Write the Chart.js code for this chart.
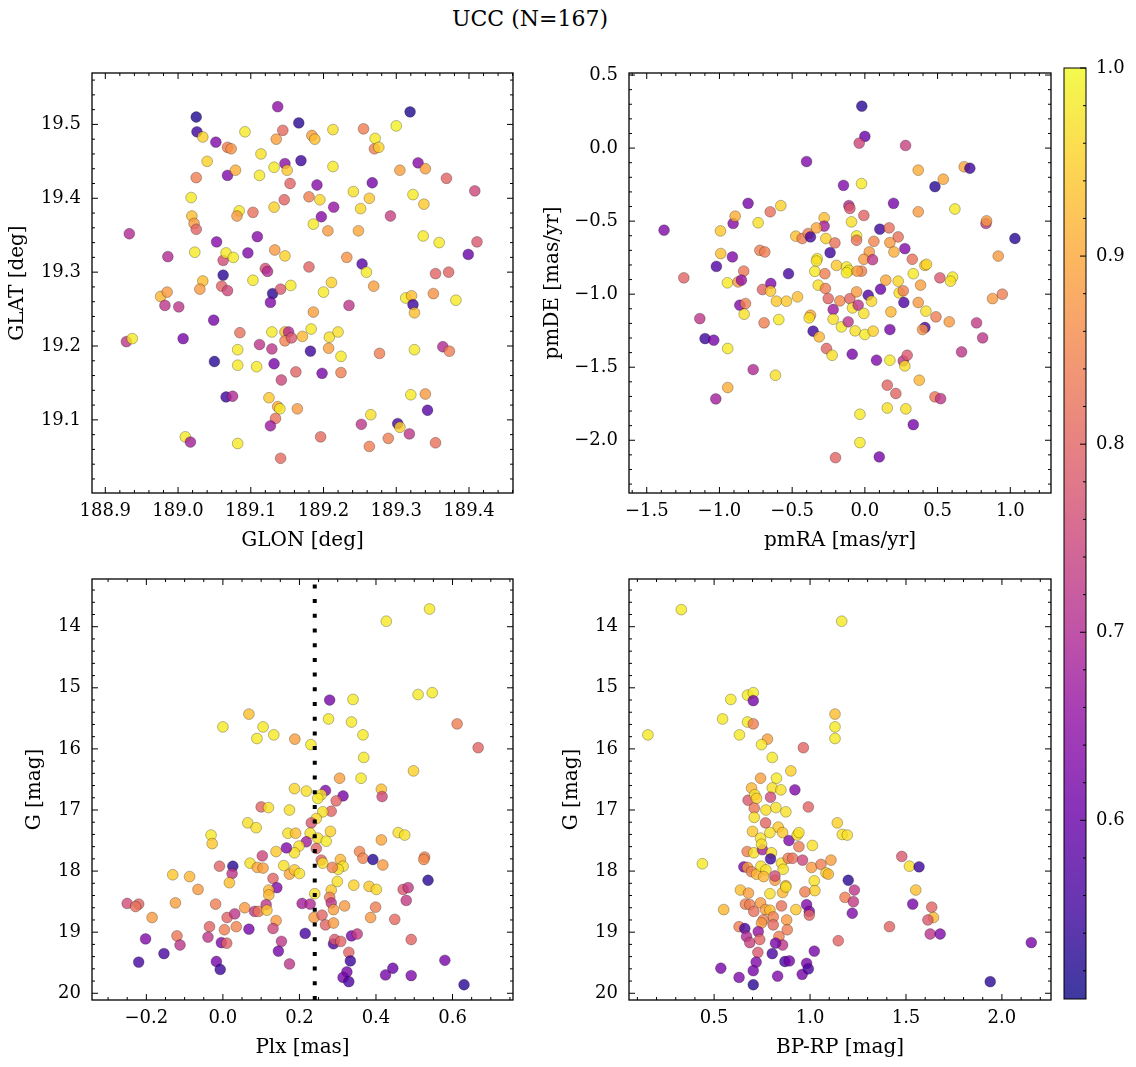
<!DOCTYPE html>
<html>
<head>
<meta charset="utf-8">
<script src="https://cdn.jsdelivr.net/npm/chart.js@4.4.1/dist/chart.umd.min.js"></script>
<style>
  body { margin: 0; background: #fff; }
  #fig { position: relative; width: 1136px; height: 1067px; font-family: 'DejaVu Serif', serif; }
  #fig canvas { position: absolute; }
  #suptitle { position: absolute; left: 0; width: 1060px; top: 6px; text-align: center; font-size: 22px; line-height: 26px; color: #000; }
</style>
</head>
<body>
<div id="fig">
  <div id="suptitle">UCC (N=167)</div>
  <canvas id="posChart"></canvas>
  <canvas id="pmChart"></canvas>
  <canvas id="plxChart"></canvas>
  <canvas id="cmdChart"></canvas>
  <canvas id="cbarChart"></canvas>
</div>
<script>
// values, one list per quantity and panel
const glon = [
  189.137,189.025,189.319,189.026,189.034,189.052,189.068,189.073,189.092,189.144,
  189.166,189.135,189.184,189.188,189.213,189.255,189.270,189.271,189.276,189.300,
  189.040,189.025,189.068,189.079,189.114,189.112,189.132,189.147,189.150,189.169,
  189.154,189.213,189.191,189.267,189.305,189.330,189.340,189.369,189.408,189.018,
  189.084,189.081,189.103,189.132,189.146,189.180,189.195,189.214,189.197,189.186,
  189.241,189.263,189.251,189.292,189.323,189.338,189.019,189.022,189.025,188.933,
  189.053,189.109,189.206,189.248,189.337,189.359,189.411,188.986,189.023,189.062,
  189.066,189.076,189.096,189.133,189.147,189.180,189.120,189.123,189.232,189.253,
  189.259,189.399,189.354,189.372,
  189.062,189.103,189.034,189.030,188.976,188.985,188.982,189.001,189.060,189.068,
  189.130,189.127,189.141,189.155,189.211,189.200,189.269,189.313,189.321,189.323,
  189.325,189.351,189.382,189.235,189.186,189.049,189.007,188.929,188.937,189.085,
  189.082,189.112,189.129,189.129,189.147,189.152,189.147,189.156,189.171,189.183,
  189.182,189.208,189.207,189.220,189.224,189.050,189.082,189.108,189.132,189.142,
  189.162,189.198,189.224,189.277,189.325,189.364,189.373,189.066,189.075,189.125,
  189.137,189.140,189.134,189.127,189.164,189.320,189.340,189.343,189.265,189.252,
  189.302,189.305,189.318,189.196,189.289,189.263,189.354,189.010,189.017,189.082,
  189.141];
const glat = [
  19.524,19.510,19.517,19.490,19.483,19.476,19.469,19.467,19.490,19.492,
  19.502,19.480,19.485,19.480,19.493,19.494,19.467,19.481,19.469,19.498,
  19.450,19.428,19.431,19.438,19.460,19.431,19.442,19.447,19.438,19.451,
  19.420,19.443,19.418,19.421,19.438,19.448,19.440,19.427,19.410,19.401,
  19.383,19.376,19.381,19.388,19.398,19.402,19.398,19.388,19.375,19.365,
  19.409,19.400,19.386,19.376,19.405,19.392,19.376,19.366,19.358,19.352,
  19.341,19.348,19.356,19.356,19.349,19.340,19.341,19.321,19.327,19.316,
  19.326,19.320,19.326,19.330,19.322,19.307,19.305,19.301,19.320,19.311,
  19.300,19.324,19.298,19.300,
  19.296,19.289,19.288,19.277,19.267,19.273,19.255,19.253,19.281,19.275,
  19.271,19.259,19.277,19.282,19.286,19.273,19.281,19.265,19.268,19.256,
  19.245,19.271,19.262,19.255,19.246,19.235,19.210,19.206,19.210,19.218,
  19.195,19.202,19.196,19.219,19.219,19.219,19.207,19.211,19.213,19.223,
  19.193,19.212,19.197,19.219,19.186,19.179,19.174,19.172,19.176,19.154,
  19.165,19.163,19.164,19.190,19.195,19.199,19.193,19.131,19.132,19.130,
  19.118,19.115,19.102,19.092,19.115,19.134,19.135,19.113,19.107,19.094,
  19.095,19.090,19.081,19.077,19.075,19.064,19.069,19.077,19.070,19.068,
  19.048];
const probPos = [
  0.65,0.52,0.52,0.55,0.95,0.63,0.84,0.87,0.98,0.81,
  0.53,0.89,0.89,0.93,0.97,0.84,0.84,0.98,0.95,0.99,
  0.95,0.84,0.63,0.91,0.97,0.98,0.98,0.65,0.94,0.55,
  0.80,0.98,0.64,0.62,0.89,0.64,0.89,0.80,0.75,0.98,
  0.98,0.88,0.82,0.95,0.80,0.84,0.96,0.66,0.64,0.98,
  0.97,0.94,0.96,0.74,0.98,0.94,0.93,0.88,0.80,0.70,
  0.64,0.64,0.88,0.90,0.98,0.98,0.78,0.70,0.98,0.76,
  0.98,0.98,0.63,0.88,0.95,0.80,0.77,0.70,0.87,0.58,
  0.98,0.60,0.80,0.80,
  0.53,0.98,0.93,0.88,0.92,0.88,0.72,0.72,0.80,0.75,
  0.53,0.63,0.78,0.98,0.95,0.98,0.89,0.98,0.93,0.55,
  0.93,0.87,0.98,0.72,0.89,0.62,0.62,0.72,0.98,0.82,
  0.98,0.72,0.72,0.98,0.93,0.70,0.85,0.78,0.92,0.98,
  0.55,0.97,0.89,0.97,0.98,0.53,0.98,0.98,0.62,0.75,
  0.80,0.62,0.84,0.84,0.98,0.70,0.84,0.55,0.70,0.94,
  0.90,0.98,0.82,0.67,0.88,0.98,0.88,0.58,0.97,0.72,
  0.56,0.95,0.72,0.81,0.84,0.84,0.82,0.98,0.68,0.98,
  0.81];

const pmra = [
  -0.021,0.000,-0.039,0.280,-0.401,0.367,0.683,0.722,0.539,0.482,
  -0.147,-0.023,-0.803,-0.578,-0.110,-0.103,0.197,0.619,-1.381,-0.993,
  -0.906,-0.892,-0.734,-0.651,-0.280,-0.280,-0.092,-0.007,0.367,0.833,
  0.837,1.032,-0.475,-0.431,-0.390,-0.374,-0.333,-0.268,-0.206,-0.057,
  -0.057,0.103,0.167,0.229,0.172,0.200,0.275,0.062,0.030,0.917,
  -0.239,-0.991,-0.911,-0.722,-0.688,-1.021,-0.833,-0.525,-0.328,-0.333,
  -0.195,-0.126,-0.110,-0.126,-0.275,-0.344,-0.023,-0.053,-0.007,0.053,
  0.326,0.413,0.424,0.333,-1.245,0.516,0.603,
  -0.945,-0.872,-0.849,-0.704,-0.647,-0.649,-0.608,-0.539,-0.463,-0.860,
  -0.821,-0.830,-1.135,-1.099,-1.039,-0.943,-0.693,-0.592,-0.768,-0.615,
  -0.943,-1.025,-0.374,-0.383,-0.356,-0.314,-0.321,-0.271,-0.252,-0.218,
  -0.218,-0.172,-0.161,-0.115,-0.103,-0.085,-0.057,-0.046,-0.007,-0.067,
  0.000,0.057,0.023,0.046,0.108,0.144,0.179,0.172,0.229,0.236,
  0.264,0.268,0.367,0.383,0.420,0.489,0.580,0.589,0.413,0.397,
  0.768,0.810,0.665,0.878,0.945,-0.087,0.080,0.172,0.264,0.291,
  0.275,-0.264,-0.225,0.374,0.154,0.213,0.154,0.282,0.482,0.521,
  -0.034,0.333,-0.034,-0.202,0.099];
const pmde = [
  0.287,0.080,0.034,0.018,-0.092,-0.151,-0.128,-0.138,-0.213,-0.264,
  -0.255,-0.243,-0.378,-0.394,-0.394,-0.413,-0.378,-0.417,-0.562,-0.567,
  -0.516,-0.466,-0.511,-0.436,-0.477,-0.534,-0.505,-0.461,-0.436,-0.516,
  -0.498,-0.619,-0.603,-0.619,-0.585,-0.608,-0.546,-0.619,-0.649,-0.601,
  -0.631,-0.555,-0.546,-0.608,-0.647,-0.711,-0.688,-0.638,-0.711,-0.739,
  -0.716,-0.722,-0.745,-0.700,-0.711,-0.810,-0.842,-0.860,-0.757,-0.773,
  -0.803,-0.814,-0.837,-0.853,-0.860,-0.844,-0.842,-0.842,-0.761,-0.764,
  -0.761,-0.803,-0.796,-0.860,-0.888,-0.888,-0.883,
  -0.922,-0.916,-0.904,-0.968,-0.927,-0.979,-1.048,-1.048,-1.018,-1.075,
  -1.064,-1.137,-1.167,-1.304,-1.315,-1.372,-1.196,-1.174,-1.516,-1.555,
  -1.639,-1.717,-1.144,-1.162,-1.253,-1.292,-0.938,-0.961,-1.030,-1.105,
  -1.171,-1.046,-1.224,-1.189,-1.030,-1.094,-0.984,-1.075,-1.132,-1.251,
  -1.276,-1.253,-1.007,-1.048,-0.966,-0.904,-1.121,-1.242,-0.911,-0.991,
  -0.977,-1.057,-1.057,-0.938,-1.116,-1.155,-1.189,-0.911,-1.228,-1.242,
  -1.196,-1.299,-1.395,-1.030,-1.000,-1.411,-1.452,-1.452,-1.457,-1.418,
  -1.491,-1.372,-1.418,-1.589,-1.623,-1.680,-1.779,-1.785,-1.703,-1.715,
  -1.822,-1.893,-2.016,-2.119,-2.114];
const probPm = [
  0.53,0.60,0.75,0.74,0.63,0.91,0.90,0.55,0.90,0.53,
  0.63,0.98,0.62,0.95,0.70,0.78,0.62,0.98,0.63,0.94,
  0.64,0.91,0.97,0.82,0.93,0.68,0.97,0.80,0.88,0.72,
  0.88,0.53,0.93,0.84,0.84,0.56,0.90,0.95,0.82,0.98,
  0.82,0.55,0.82,0.82,0.88,0.91,0.63,0.85,0.88,0.88,
  0.55,0.93,0.63,0.84,0.84,0.57,0.83,0.56,0.98,0.97,
  0.94,0.98,0.98,0.98,0.84,0.98,0.84,0.88,0.88,0.72,
  0.82,0.94,0.96,0.98,0.80,0.78,0.98,
  0.98,0.88,0.66,0.80,0.63,0.94,0.94,0.94,0.93,0.63,
  0.84,0.97,0.72,0.55,0.62,0.98,0.84,0.98,0.70,0.97,
  0.91,0.68,0.90,0.97,0.55,0.92,0.97,0.84,0.80,0.67,
  0.97,0.86,0.98,0.72,0.80,0.97,0.88,0.72,0.97,0.97,
  0.98,0.95,0.57,0.96,0.60,0.90,0.92,0.62,0.96,0.97,
  0.84,0.57,0.88,0.89,0.97,0.84,0.88,0.97,0.56,0.87,
  0.73,0.72,0.72,0.88,0.84,0.62,0.63,0.98,0.72,0.78,
  0.97,0.80,0.97,0.92,0.80,0.80,0.97,0.97,0.83,0.72,
  0.98,0.62,0.98,0.80,0.62];

const plx = [
  0.540,0.427,0.279,0.340,0.510,0.547,0.068,0.000,0.105,0.089,
  0.133,0.188,0.230,0.276,0.336,0.366,0.368,0.612,0.667,0.305,
  0.361,0.498,
  0.187,0.218,0.268,0.414,0.416,0.314,0.296,0.257,0.248,0.283,
  0.261,0.244,0.231,0.100,0.119,0.174,0.065,0.087,-0.031,-0.028,
  0.170,0.190,0.228,0.248,0.270,0.281,0.218,0.244,0.199,0.187,
  0.139,0.166,0.103,-0.009,0.026,0.024,0.017,0.071,0.090,0.105,
  0.159,0.174,0.187,0.200,0.257,0.261,0.307,0.314,0.301,0.286,
  0.357,0.366,0.392,0.418,0.414,0.458,0.475,0.527,0.525,0.536,
  -0.131,-0.087,-0.065,-0.124,-0.250,-0.220,-0.228,-0.185,-0.019,0.057,
  0.083,0.093,0.131,0.141,0.120,0.120,0.113,0.115,0.139,0.207,
  0.228,0.240,0.283,0.279,0.283,0.289,0.299,0.318,0.238,0.259,
  0.268,0.289,0.342,0.382,0.401,0.399,0.386,0.449,0.471,0.484,
  0.479,0.492,-0.035,0.004,0.011,0.031,0.035,0.068,0.131,-0.202,
  -0.120,-0.112,-0.039,-0.004,0.010,-0.220,-0.154,-0.017,-0.007,0.153,
  0.145,0.174,0.215,0.289,0.292,0.308,0.336,0.351,0.329,0.333,
  0.324,0.314,0.329,0.425,0.444,0.492,0.580,0.630];
const gPlx = [
  13.71,13.91,15.20,15.19,15.11,15.08,15.43,15.64,15.64,15.83,
  15.77,15.84,15.93,15.51,15.56,15.77,16.14,15.59,15.98,16.48,
  16.48,16.36,
  16.65,16.69,16.68,16.66,16.78,16.77,16.85,16.75,16.81,17.02,
  17.03,17.14,17.21,16.95,16.96,17.00,17.21,17.29,17.41,17.55,
  17.38,17.38,17.38,17.46,17.51,17.35,17.52,17.63,17.59,17.70,
  17.68,17.62,17.75,17.92,17.92,18.04,18.19,17.87,17.94,17.95,
  17.91,18.05,17.98,18.04,17.82,17.87,17.81,17.92,17.97,17.94,
  17.68,17.79,17.81,17.90,17.49,17.37,17.41,17.77,17.81,18.15,
  18.06,18.09,18.30,18.52,18.53,18.54,18.58,18.76,18.54,18.60,
  18.66,18.66,18.12,18.27,18.31,18.39,18.55,18.64,18.81,18.53,
  18.54,18.37,18.31,18.43,18.52,18.63,18.17,18.57,18.76,18.72,
  18.88,18.85,18.23,18.25,18.30,18.59,18.76,18.79,18.30,18.27,
  18.48,19.12,18.91,18.96,18.76,18.70,18.91,18.95,18.94,19.11,
  19.06,19.21,19.08,19.17,19.18,19.49,19.35,19.48,19.61,19.15,
  19.31,19.52,19.02,19.19,19.12,19.15,19.06,19.03,19.33,19.47,
  19.65,19.74,19.81,19.70,19.59,19.71,19.46,19.86];
const probPlx = [
  0.98,0.98,0.62,0.98,0.98,0.98,0.93,0.98,0.98,0.98,
  0.98,0.89,0.98,0.98,0.98,0.98,0.98,0.84,0.80,0.89,
  0.98,0.95,
  0.96,0.97,0.63,0.93,0.75,0.62,0.80,0.97,0.98,0.80,
  0.97,0.96,0.78,0.80,0.97,0.97,0.97,0.97,0.98,0.94,
  0.97,0.93,0.97,0.97,0.98,0.95,0.68,0.80,0.97,0.97,
  0.94,0.63,0.75,0.80,0.53,0.72,0.93,0.97,0.90,0.89,
  0.97,0.90,0.94,0.97,0.80,0.97,0.92,0.97,0.97,0.84,
  0.85,0.85,0.53,0.88,0.90,0.97,0.97,0.84,0.86,0.53,
  0.94,0.92,0.88,0.89,0.76,0.80,0.82,0.88,0.84,0.88,
  0.72,0.83,0.80,0.63,0.92,0.92,0.72,0.94,0.88,0.68,
  0.70,0.97,0.94,0.84,0.72,0.89,0.97,0.88,0.88,0.80,
  0.80,0.88,0.95,0.94,0.96,0.84,0.88,0.81,0.78,0.73,
  0.73,0.80,0.80,0.84,0.80,0.72,0.85,0.62,0.75,0.63,
  0.83,0.72,0.72,0.63,0.80,0.56,0.56,0.62,0.55,0.72,
  0.62,0.72,0.56,0.57,0.78,0.80,0.62,0.73,0.80,0.55,
  0.62,0.62,0.57,0.62,0.60,0.63,0.62,0.53];
const plxCut = 0.24;

const bprp = [
  0.329,1.165,0.155,0.587,0.674,0.704,0.704,0.544,0.674,0.704,
  0.632,0.778,0.747,0.803,0.965,1.130,1.130,1.130,0.900,0.742,
  0.825,0.921,0.695,0.803,0.848,
  0.677,0.712,0.721,0.794,0.991,0.709,0.770,0.822,0.874,0.709,
  0.768,0.834,0.700,0.742,0.791,0.857,0.890,0.933,0.942,0.942,
  1.012,1.142,1.168,1.194,0.672,0.707,0.752,0.799,0.794,0.747,
  0.655,0.674,0.695,0.721,0.744,0.770,0.758,0.817,0.817,0.851,
  0.860,0.886,0.909,0.961,1.008,1.057,1.083,1.095,1.109,0.439,
  0.637,0.679,0.791,0.857,0.873,0.874,1.022,1.025,0.973,1.199,
  1.231,1.182,1.226,1.220,0.982,0.996,0.996,0.926,0.550,0.663,
  0.686,0.707,0.742,0.768,0.791,0.808,0.851,0.878,0.756,0.747,
  0.630,0.660,0.808,0.881,0.730,0.669,0.686,0.738,0.838,0.857,
  0.820,0.803,0.728,0.719,0.704,0.704,0.630,0.535,0.831,0.869,
  0.892,0.959,0.982,0.991,1.022,1.147,1.414,1.478,1.518,1.568,
  1.551,1.535,1.634,1.643,1.614,1.626,1.678,2.153,1.939];
const gCmd = [
  13.72,13.91,15.77,15.19,15.12,15.08,15.21,15.51,15.56,15.59,
  15.77,15.84,15.93,16.14,15.98,15.43,15.64,15.83,16.36,16.48,
  16.48,16.67,16.64,16.64,16.67,
  16.84,16.75,16.81,16.79,16.95,16.97,17.00,16.96,17.03,17.12,
  17.21,17.28,17.35,17.46,17.37,17.37,17.50,17.41,17.37,17.60,
  17.58,17.21,17.40,17.41,17.68,17.70,17.65,17.70,17.80,17.56,
  17.93,17.94,18.01,18.05,17.92,17.98,18.09,18.15,18.08,17.87,
  17.97,17.79,17.79,17.82,17.94,17.89,18.03,18.05,17.82,17.88,
  18.31,18.36,18.37,18.35,18.24,18.26,18.16,18.32,18.34,18.15,
  18.31,18.43,18.50,18.69,18.55,18.66,18.72,18.63,18.63,18.54,
  18.55,18.66,18.52,18.63,18.64,18.75,18.57,18.80,18.80,18.85,
  18.91,18.94,18.88,18.96,18.99,19.07,19.17,19.12,19.07,19.21,
  19.18,19.35,19.33,19.49,19.63,19.86,19.74,19.59,19.72,19.48,
  19.47,19.69,19.51,19.60,19.31,19.14,18.91,17.76,17.92,17.93,
  18.31,18.54,18.59,18.76,18.80,19.03,19.03,19.17,19.81];
const probCmd = [
  0.98,0.98,0.98,0.98,0.98,0.98,0.62,0.98,0.98,0.84,
  0.98,0.89,0.98,0.98,0.80,0.93,0.98,0.98,0.95,0.89,
  0.98,0.63,0.92,0.97,0.97,
  0.78,0.97,0.95,0.76,0.80,0.83,0.97,0.97,0.97,0.97,
  0.80,0.94,0.94,0.97,0.97,0.94,0.63,0.97,0.97,0.84,
  0.97,0.95,0.97,0.97,0.84,0.97,0.68,0.97,0.55,0.97,
  0.62,0.88,0.84,0.92,0.97,0.97,0.92,0.88,0.76,0.97,
  0.97,0.84,0.82,0.75,0.88,0.84,0.96,0.92,0.89,0.98,
  0.93,0.89,0.97,0.92,0.93,0.97,0.97,0.95,0.84,0.53,
  0.72,0.84,0.73,0.63,0.63,0.63,0.80,0.94,0.92,0.84,
  0.84,0.82,0.88,0.89,0.93,0.84,0.82,0.88,0.84,0.88,
  0.84,0.56,0.81,0.84,0.66,0.70,0.74,0.80,0.84,0.72,
  0.62,0.56,0.78,0.63,0.62,0.53,0.63,0.62,0.63,0.56,
  0.62,0.62,0.62,0.57,0.62,0.80,0.80,0.78,0.97,0.55,
  0.93,0.62,0.80,0.92,0.78,0.72,0.63,0.62,0.53];

// tick labels
const glonTicks = [188.9, 189.0, 189.1, 189.2, 189.3, 189.4];
const glatTicks = [19.1, 19.2, 19.3, 19.4, 19.5];
const pmraTicks = [-1.5, -1.0, -0.5, 0.0, 0.5, 1.0];
const pmdeTicks = [-2.0, -1.5, -1.0, -0.5, 0.0, 0.5];
const plxTicks = [-0.2, 0.0, 0.2, 0.4, 0.6];
const bprpTicks = [0.5, 1.0, 1.5, 2.0];
const magTicks = [14, 15, 16, 17, 18, 19, 20];
const probTicks = [0.6, 0.7, 0.8, 0.9, 1.0];
const probRange = [0.505, 1.0];

// plasma colormap
const plasmaStops = ['#0d0887','#41049d','#6a00a8','#8f0da4','#b12a90','#cc4778',
                     '#e16462','#f2844b','#fca636','#fcce25','#f0f921'];
const plasmaRgb = plasmaStops.map(h => [1, 3, 5].map(i => parseInt(h.slice(i, i + 2), 16)));

function plasma(t, alpha) {
  t = Math.min(1, Math.max(0, t)) * (plasmaRgb.length - 1);
  const i = Math.min(Math.floor(t), plasmaRgb.length - 2);
  const f = t - i;
  const c = plasmaRgb[i].map((v, k) => Math.round(v + (plasmaRgb[i + 1][k] - v) * f));
  return `rgba(${c[0]},${c[1]},${c[2]},${alpha})`;
}
const probColor = p => plasma((p - probRange[0]) / (probRange[1] - probRange[0]), 0.8);

Chart.defaults.font.family = "'DejaVu Serif', serif";
Chart.defaults.color = '#000';

const tickFont = { size: 18 };
const labelFont = { size: 20 };
const fmt = d => v => v.toFixed(d).replace('-', '\u2212');

// inward major/minor ticks on every side plus the axes frame
const frameTicks = {
  id: 'frameTicks',
  afterDatasetsDraw(chart, args, o) {
    const { ctx, chartArea: a } = chart;
    ctx.save();
    ctx.strokeStyle = '#000';
    ctx.lineWidth = 1;
    ctx.beginPath();
    for (const ax of o.axes) {
      const s = chart.scales[ax.id];
      const marks = ax.major.map(v => [v, 6]);
      const k0 = Math.ceil(s.min / ax.minor - 1e-6), k1 = Math.floor(s.max / ax.minor + 1e-6);
      for (let k = k0; k <= k1; k++) {
        const v = k * ax.minor;
        if (ax.major.some(m => Math.abs(m - v) < ax.minor / 10)) continue;
        marks.push([v, 3]);
      }
      for (const [v, len] of marks) {
        const p = s.getPixelForValue(v);
        if (s.isHorizontal()) {
          if (p < a.left || p > a.right) continue;
          ctx.moveTo(p, a.bottom); ctx.lineTo(p, a.bottom - len);
          ctx.moveTo(p, a.top); ctx.lineTo(p, a.top + len);
        } else {
          if (p < a.top || p > a.bottom) continue;
          if (ax.sides.includes('left')) { ctx.moveTo(a.left, p); ctx.lineTo(a.left + len, p); }
          if (ax.sides.includes('right')) { ctx.moveTo(a.right, p); ctx.lineTo(a.right - len, p); }
        }
      }
    }
    ctx.stroke();
    ctx.lineWidth = o.lw || 1.3;
    ctx.strokeRect(a.left, a.top, a.right - a.left, a.bottom - a.top);
    ctx.restore();
  }
};

// dotted vertical line at a parallax value
const cutLine = {
  id: 'cutLine',
  afterDatasetsDraw(chart, args, o) {
    if (o.value === undefined) return;
    const { ctx, chartArea: a } = chart;
    const x = chart.scales.x.getPixelForValue(o.value);
    ctx.save();
    ctx.strokeStyle = '#000';
    ctx.lineWidth = 4;
    ctx.setLineDash([4, 10.7]);
    ctx.beginPath();
    ctx.moveTo(x, a.bottom);
    ctx.lineTo(x, a.top);
    ctx.stroke();
    ctx.restore();
  }
};

// colour ramp inside the colorbar axes
const colorRamp = {
  id: 'colorRamp',
  beforeDatasetsDraw(chart) {
    const { ctx, chartArea: a } = chart;
    const g = ctx.createLinearGradient(0, a.bottom, 0, a.top);
    for (let i = 0; i <= 40; i++) g.addColorStop(i / 40, plasma(i / 40, 0.8));
    ctx.save();
    ctx.fillStyle = g;
    ctx.fillRect(a.left, a.top, a.right - a.left, a.bottom - a.top);
    ctx.restore();
  }
};

const WY = 92, HX = 60, PAD_T = 25, PAD_R = 20, PAD_B = 5;

function placeCanvas(id, left, top, w, h) {
  const cv = document.getElementById(id);
  cv.width = w; cv.height = h;
  cv.style.left = left + 'px'; cv.style.top = top + 'px';
  cv.style.width = w + 'px'; cv.style.height = h + 'px';
  return cv;
}

function makePanel(id, area, cfg) {
  const w = WY + (area.r - area.l) + PAD_R;
  const h = PAD_T + (area.b - area.t) + HX + PAD_B;
  const cv = placeCanvas(id, area.l - WY, area.t - PAD_T, w, h);
  return new Chart(cv, {
    type: 'scatter',
    data: {
      datasets: [{
        data: cfg.x.map((v, i) => ({ x: v, y: cfg.y[i] })),
        backgroundColor: cfg.p.map(probColor),
        borderColor: 'rgba(0,0,0,0.45)',
        borderWidth: 0.6,
        pointRadius: 5.4
      }]
    },
    options: {
      responsive: false,
      animation: false,
      devicePixelRatio: 1,
      events: [],
      layout: { padding: { left: 0, top: PAD_T, right: PAD_R, bottom: PAD_B } },
      plugins: {
        legend: { display: false },
        tooltip: { enabled: false },
        cutLine: { value: cfg.cut },
        frameTicks: {
          axes: [
            { id: 'x', major: cfg.xt, minor: cfg.xm },
            { id: 'y', major: cfg.yt, minor: cfg.ym, sides: ['left', 'right'] }
          ]
        }
      },
      scales: {
        x: {
          type: 'linear', min: cfg.xr[0], max: cfg.xr[1],
          grid: { display: false, drawTicks: false }, border: { display: false },
          afterBuildTicks: s => { s.ticks = cfg.xt.map(v => ({ value: v })); },
          afterFit: s => { s.height = HX; },
          ticks: { font: tickFont, color: '#000', padding: 8, maxRotation: 0, autoSkip: false, callback: cfg.xf },
          title: { display: true, text: cfg.xl, font: labelFont, color: '#000', padding: { top: 0, bottom: 0 } }
        },
        y: {
          type: 'linear', min: cfg.yr[0], max: cfg.yr[1], reverse: !!cfg.rev,
          grid: { display: false, drawTicks: false }, border: { display: false },
          afterBuildTicks: s => { s.ticks = cfg.yt.map(v => ({ value: v })); },
          afterFit: s => { s.width = WY; },
          ticks: { font: tickFont, color: '#000', padding: 11, autoSkip: false, callback: cfg.yf },
          title: { display: true, text: cfg.yl, font: labelFont, color: '#000', padding: { top: cfg.ytp, bottom: 0 } }
        }
      }
    },
    plugins: [cutLine, frameTicks]
  });
}

makePanel('posChart', { l: 92, t: 73, r: 513, b: 493 }, {
  x: glon, y: glat, p: probPos,
  xr: [188.8817, 189.4605], yr: [19.001, 19.5696],
  xt: glonTicks, yt: glatTicks, xm: 0.02, ym: 0.02,
  xf: fmt(1), yf: fmt(1), xl: 'GLON [deg]', yl: 'GLAT [deg]', ytp: 6
});

makePanel('pmChart', { l: 629, t: 73, r: 1051, b: 493 }, {
  x: pmra, y: pmde, p: probPm,
  xr: [-1.622, 1.280], yr: [-2.361, 0.514],
  xt: pmraTicks, yt: pmdeTicks, xm: 0.1, ym: 0.1,
  xf: fmt(1), yf: fmt(1), xl: 'pmRA [mas/yr]', yl: 'pmDE [mas/yr]', ytp: 4
});

makePanel('plxChart', { l: 92, t: 579, r: 513, b: 1000 }, {
  x: plx, y: gPlx, p: probPlx,
  xr: [-0.342, 0.758], yr: [13.219, 20.11], rev: true,
  xt: plxTicks, yt: magTicks, xm: 0.05, ym: 0.2,
  xf: fmt(1), yf: fmt(0), xl: 'Plx [mas]', yl: 'G [mag]', ytp: 23, cut: plxCut
});

makePanel('cmdChart', { l: 629, t: 579, r: 1051, b: 1000 }, {
  x: bprp, y: gCmd, p: probCmd,
  xr: [0.0564, 2.2557], yr: [13.219, 20.11], rev: true,
  xt: bprpTicks, yt: magTicks, xm: 0.1, ym: 0.2,
  xf: fmt(1), yf: fmt(0), xl: 'BP-RP [mag]', yl: 'G [mag]', ytp: 23
});

// colorbar: area x 1064..1086, y 68..999
const cbW = 50, cbPad = 25;
const cbCanvas = placeCanvas('cbarChart', 1054, 68 - cbPad, 10 + 22 + cbW, cbPad + 931 + cbPad);
new Chart(cbCanvas, {
  type: 'scatter',
  data: { datasets: [] },
  options: {
    responsive: false,
    animation: false,
    devicePixelRatio: 1,
    events: [],
    layout: { padding: { left: 10, top: cbPad, right: 0, bottom: cbPad } },
    plugins: {
      legend: { display: false },
      tooltip: { enabled: false },
      frameTicks: { axes: [{ id: 'y', major: probTicks, minor: 0.02, sides: ['right'] }], lw: 1 }
    },
    scales: {
      x: { display: false, min: 0, max: 1 },
      y: {
        type: 'linear', position: 'right', min: probRange[0], max: probRange[1],
        grid: { display: false, drawTicks: false }, border: { display: false },
        afterBuildTicks: s => { s.ticks = probTicks.map(v => ({ value: v })); },
        afterFit: s => { s.width = cbW; },
        ticks: { font: tickFont, color: '#000', padding: 10, autoSkip: false, callback: fmt(1) }
      }
    }
  },
  plugins: [colorRamp, frameTicks]
});
</script>
</body>
</html>
